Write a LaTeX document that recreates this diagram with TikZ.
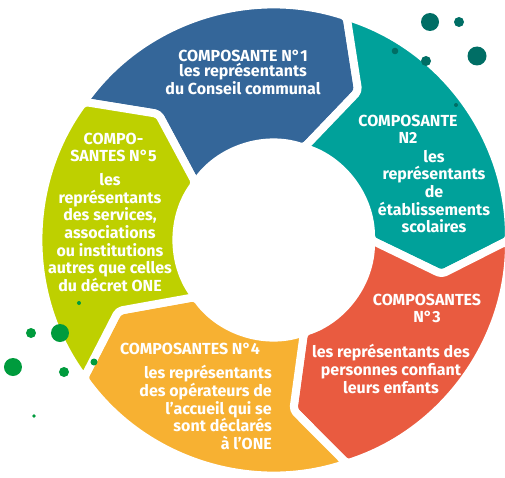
\documentclass[tikz,border=0pt]{standalone}
\usepackage{fontspec}
\setmainfont{Fira Sans}
\usetikzlibrary{positioning}
\definecolor{compblue}{RGB}{52,102,153}
\definecolor{compteal}{RGB}{0,161,154}
\definecolor{compred}{RGB}{233,91,64}
\definecolor{comporange}{RGB}{247,177,50}
\definecolor{compgreen}{RGB}{190,208,0}
\definecolor{dotteal}{RGB}{0,110,101}
\definecolor{dotgreen}{RGB}{0,155,61}
\tikzset{
    x=1pt, y=1pt,
    segment/.style = {draw=white, line width=8pt, rounded corners=4pt, line join=round},
    lbl/.style = {text=white, inner sep=0pt, align=center,
                  font=\bfseries\fontsize{16}{17.6}\selectfont}
}
\def\Rout{235pt}
\def\Rin{97pt}
\def\Rmid{171pt}
\def\Tip{11.5}
% ring piece: colour, trailing angle, leading angle
\newcommand{\ringseg}[3]{%
    \filldraw[segment, fill=#1] (#2:\Rout) arc[start angle=#2, end angle=#3, radius=\Rout]
        -- ({#3-\Tip}:\Rmid) -- (#3:\Rin) arc[start angle=#3, end angle=#2, radius=\Rin]
        -- ({#2-\Tip}:\Rmid) -- cycle;}

\begin{document}
\begin{tikzpicture}

    \useasboundingbox (-274,-237) rectangle (231,240);

    % the five pieces, clockwise
    \ringseg{compblue}{144}{72}
    \ringseg{compteal}{72}{0}
    \ringseg{compred}{0}{-72}
    \ringseg{comporange}{-72}{-144}
    \ringseg{compgreen}{216}{144}

    % bubbles
    \foreach \x/\y/\r in {156/218/9, 185/218/5, 203/184/9.5, 152/179/5, 121/189/3.3, 182/135/2}
        \fill[dotteal] (\x,\y) circle[radius=\r pt];
    \foreach \x/\y/\r in {-195/-63/2, -243/-93/5, -214/-93/9, -261/-127/9, -210/-132/5, -180/-122/3.5, -240/-176/1.8}
        \fill[dotgreen] (\x,\y) circle[radius=\r pt];

    % component 1
    \node[lbl] (title1) at (-31,184) {COMPOSANTE N°1};
    \node[lbl] (body1) [below = 1pt of title1] {les représentants\\du Conseil communal};

    % component 2
    \node[lbl] (title2) at (134,110.5) {COMPOSANTE\\N2};
    \node[lbl] (body2) at (160,48.5) {les\\représentants\\de\\établissements\\scolaires};

    % component 3
    \node[lbl] (title3) at (153,-68.5) {COMPOSANTES\\N°3};
    \node[lbl] (body3) at (117,-129) {les représentants des\\personnes confiant\\leurs enfants};

    % component 4
    \node[lbl] (title4) at (-84,-109) {COMPOSANTES N°4};
    \node[lbl, anchor=east, align=right] (body4) at (-2,-167.5)
        {les représentants\\des opérateurs de\\l’accueil qui se\\sont déclarés\\à l’ONE};

    % component 5
    \node[lbl] (title5) at (-160.5,92.5) {COMPO-\\SANTES N°5};
    \node[lbl] (body5) at (-164,7.5) {les\\représentants\\des services,\\associations\\ou institutions\\autres que celles\\du décret ONE};

\end{tikzpicture}
\end{document}
